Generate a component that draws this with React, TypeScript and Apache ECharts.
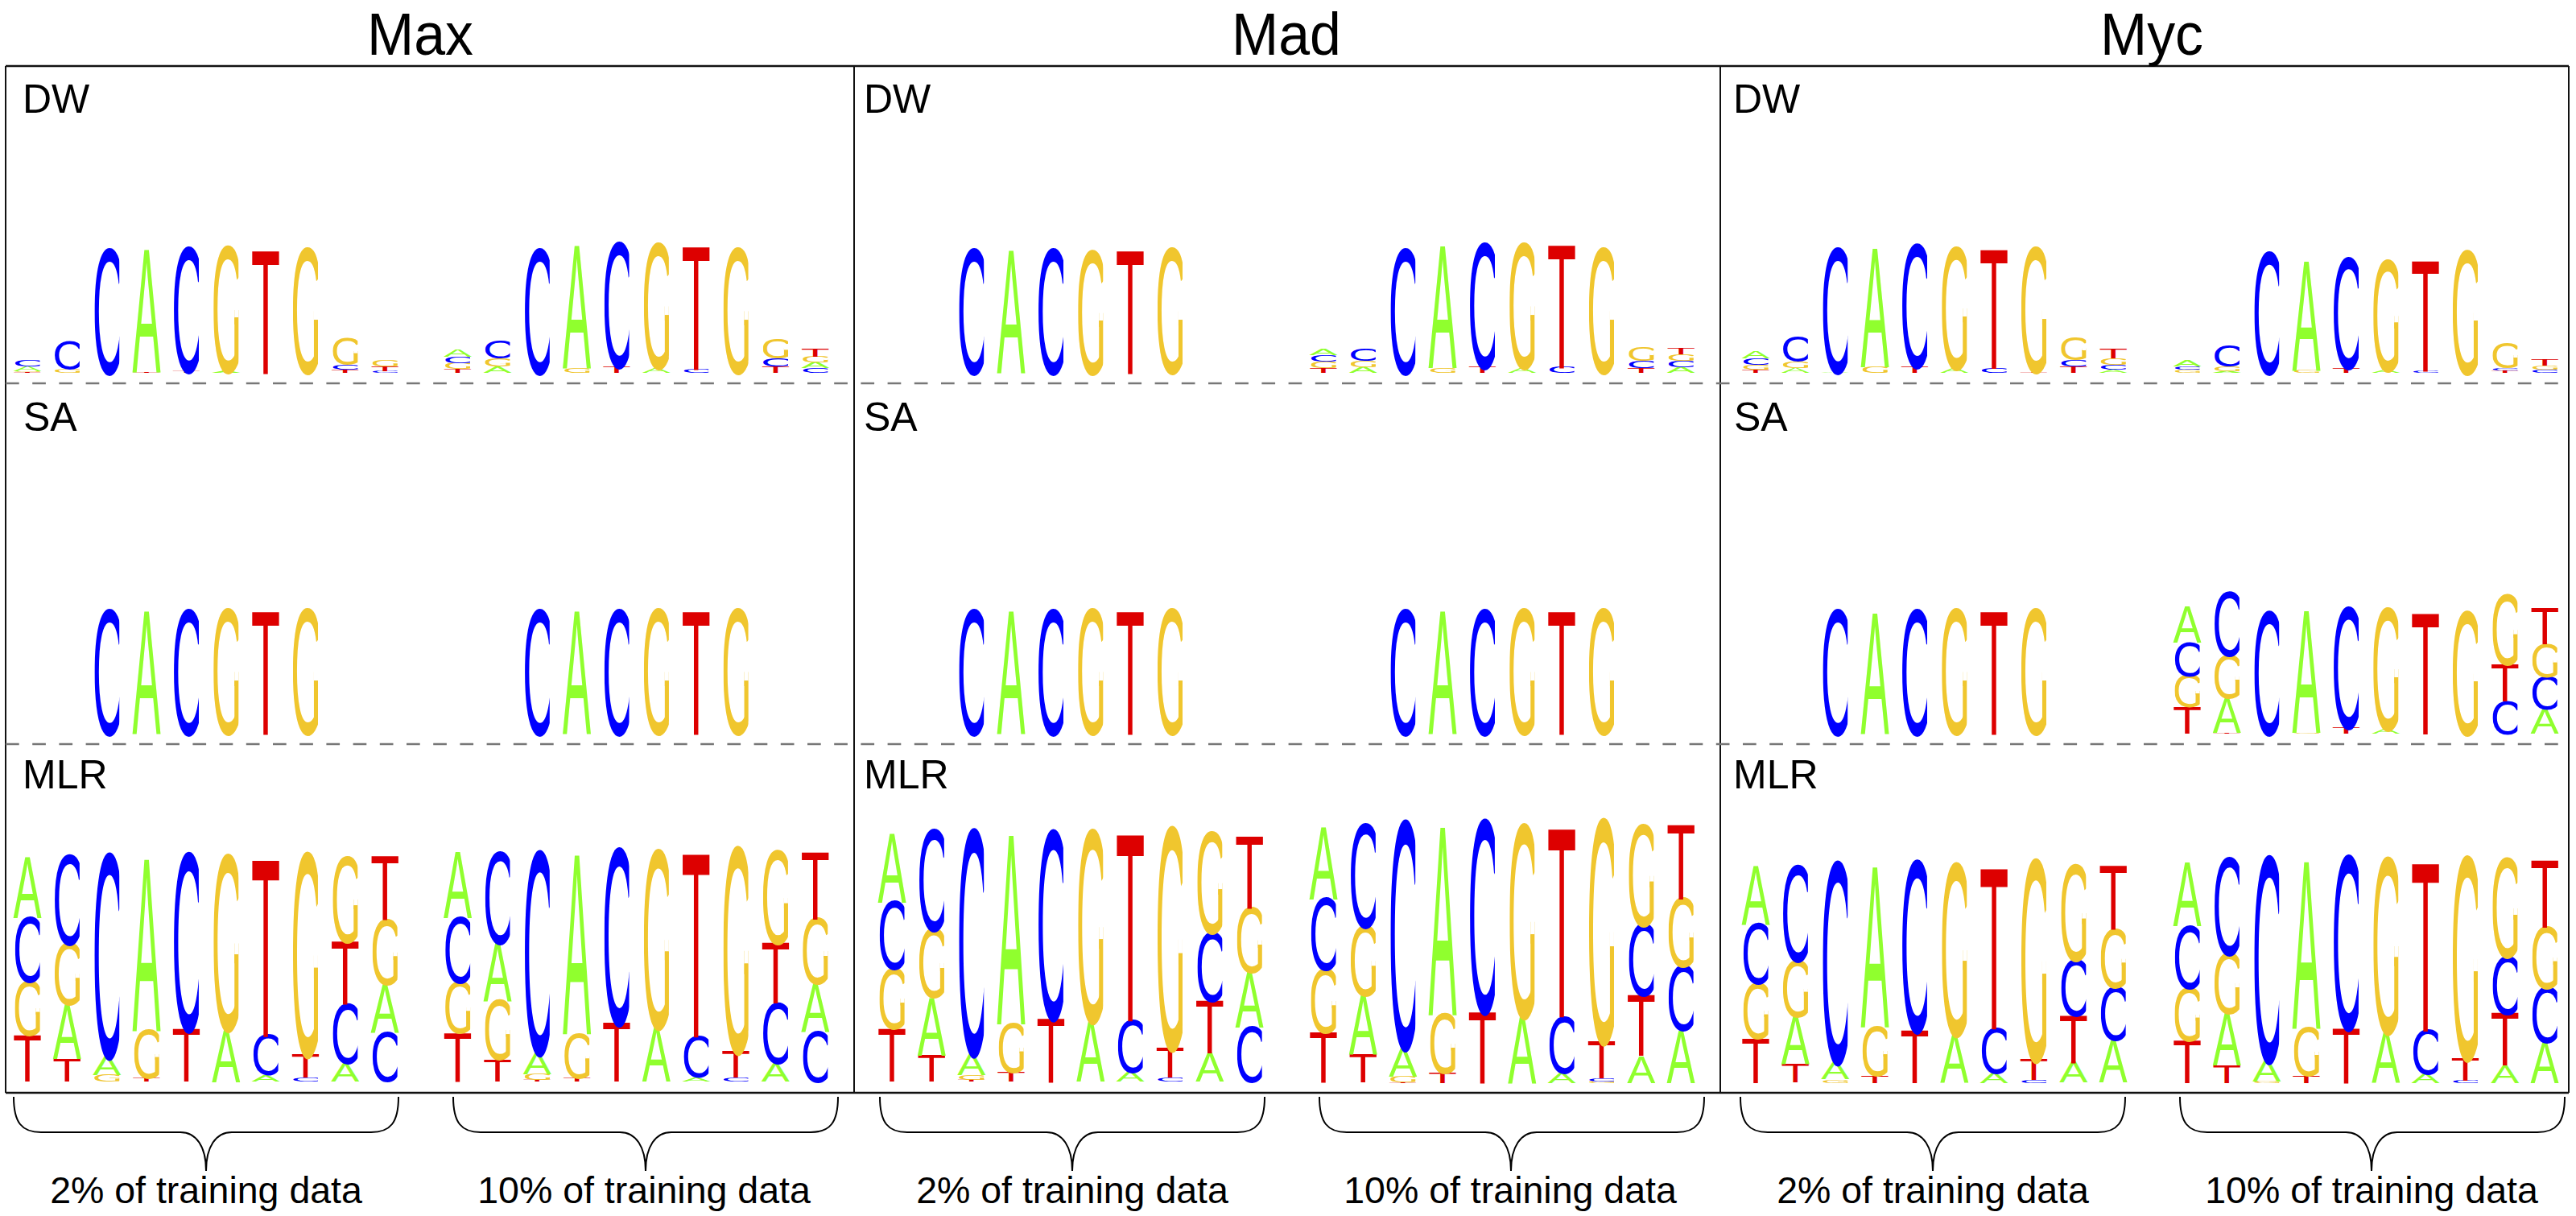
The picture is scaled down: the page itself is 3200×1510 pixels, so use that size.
import React, { useEffect, useRef } from "react";
import * as echarts from "echarts";

type Stack = [string, number][];

const factors = ["Max", "Mad", "Myc"];
const methods = ["DW", "SA", "MLR"];
const trainingLabels = ["2% of training data", "10% of training data"];
const positions = ["1", "2", "3", "4", "5", "6", "7", "8", "9", "10"];

const coreSA: Stack[] = [[], [], [["C", 152]], [["A", 152]], [["C", 152]], [["G", 152]], [["T", 152]], [["G", 152]], [], []];

const maxDW2: Stack[] = [
  [["T", 1], ["G", 1], ["A", 6], ["C", 7]],
  [["G", 5], ["C", 34]],
  [["C", 152]],
  [["T", 1], ["A", 152]],
  [["T", 2], ["C", 152]],
  [["A", 2], ["G", 154]],
  [["T", 152]],
  [["G", 152]],
  [["T", 4], ["C", 6], ["G", 33]],
  [["C", 2], ["T", 6], ["G", 8]],
];
const maxDW10: Stack[] = [
  [["T", 5], ["G", 7], ["C", 8], ["A", 9]],
  [["A", 8], ["G", 10], ["C", 21]],
  [["C", 152]],
  [["G", 6], ["A", 152]],
  [["T", 8], ["C", 152]],
  [["A", 6], ["G", 152]],
  [["C", 5], ["T", 152]],
  [["G", 152]],
  [["T", 8], ["C", 10], ["G", 24]],
  [["C", 6], ["A", 7], ["G", 7], ["T", 10]],
];
const madDW2: Stack[] = [[], [], [["C", 152]], [["A", 152]], [["C", 152]], [["G", 150]], [["T", 152]], [["G", 152]], [], []];
const madDW10: Stack[] = [
  [["T", 6], ["G", 8], ["C", 8], ["A", 8]],
  [["A", 7], ["G", 8], ["C", 15]],
  [["C", 152]],
  [["G", 6], ["A", 151]],
  [["T", 7], ["C", 152]],
  [["A", 6], ["G", 152]],
  [["C", 7], ["T", 152]],
  [["G", 152]],
  [["T", 6], ["C", 9], ["G", 16]],
  [["A", 7], ["C", 8], ["G", 8], ["T", 8]],
];
const mycDW2: Stack[] = [
  [["T", 4], ["G", 6], ["C", 8], ["A", 9]],
  [["A", 6], ["G", 8], ["C", 30]],
  [["A", 1], ["C", 152]],
  [["G", 8], ["A", 147]],
  [["T", 8], ["C", 150]],
  [["A", 6], ["G", 148]],
  [["C", 6], ["T", 147]],
  [["T", 1], ["G", 152]],
  [["T", 8], ["C", 8], ["G", 28]],
  [["A", 4], ["C", 6], ["G", 8], ["T", 11]],
];
const mycDW10: Stack[] = [
  [["G", 4], ["C", 4], ["A", 7]],
  [["A", 2], ["G", 6], ["C", 25]],
  [["C", 149]],
  [["G", 3], ["A", 135]],
  [["T", 6], ["C", 135]],
  [["A", 4], ["G", 135]],
  [["C", 2], ["T", 137]],
  [["G", 150]],
  [["T", 3], ["C", 3], ["G", 30]],
  [["C", 4], ["G", 5], ["T", 8]],
];

const mycSA2: Stack[] = [[], [], [["C", 152]], [["A", 150]], [["C", 152]], [["G", 152]], [["T", 152]], [["G", 152]], [], []];
const mycSA10: Stack[] = [
  [["T", 33], ["G", 39], ["C", 41], ["A", 44]],
  [["T", 1], ["A", 43], ["G", 53], ["C", 78]],
  [["C", 150]],
  [["G", 1], ["A", 151]],
  [["T", 7], ["C", 147]],
  [["A", 6], ["G", 148]],
  [["T", 150]],
  [["G", 150]],
  [["C", 40], ["T", 46], ["G", 86]],
  [["A", 31], ["C", 40], ["G", 40], ["T", 45]],
];

const maxMLR2: Stack[] = [
  [["T", 57], ["G", 66], ["C", 79], ["A", 75]],
  [["T", 28], ["A", 67], ["G", 75], ["C", 109]],
  [["G", 8], ["A", 24], ["C", 246]],
  [["T", 5], ["G", 58], ["A", 211]],
  [["T", 64], ["C", 215]],
  [["A", 65], ["G", 212]],
  [["A", 8], ["C", 48], ["T", 217]],
  [["C", 5], ["T", 29], ["G", 245]],
  [["A", 23], ["C", 72], ["T", 77], ["G", 104]],
  [["C", 60], ["A", 60], ["G", 79], ["T", 78]],
];
const maxMLR10: Stack[] = [
  [["T", 60], ["G", 62], ["C", 80], ["A", 81]],
  [["T", 27], ["G", 72], ["A", 72], ["C", 111]],
  [["T", 2], ["G", 7], ["A", 27], ["C", 245]],
  [["T", 5], ["G", 54], ["A", 220]],
  [["T", 72], ["C", 213]],
  [["A", 67], ["G", 215]],
  [["A", 5], ["C", 50], ["T", 225]],
  [["C", 5], ["T", 33], ["G", 248]],
  [["A", 23], ["C", 73], ["T", 75], ["G", 112]],
  [["C", 61], ["A", 59], ["G", 80], ["T", 82]],
];
const madMLR2: Stack[] = [
  [["T", 65], ["G", 74], ["C", 82], ["A", 85]],
  [["T", 33], ["A", 71], ["G", 83], ["C", 122]],
  [["T", 2], ["G", 6], ["A", 27], ["C", 272]],
  [["T", 11], ["G", 60], ["A", 232]],
  [["T", 79], ["C", 228]],
  [["A", 75], ["G", 232]],
  [["A", 12], ["C", 63], ["T", 229]],
  [["C", 5], ["T", 37], ["G", 268]],
  [["A", 35], ["T", 65], ["C", 84], ["G", 122]],
  [["C", 67], ["A", 68], ["G", 78], ["T", 89]],
];
const madMLR10: Stack[] = [
  [["T", 62], ["G", 77], ["C", 87], ["A", 89]],
  [["T", 34], ["A", 73], ["G", 85], ["C", 125]],
  [["T", 1], ["G", 7], ["A", 36], ["C", 275]],
  [["T", 12], ["G", 72], ["A", 231]],
  [["T", 88], ["C", 233]],
  [["A", 82], ["G", 233]],
  [["A", 13], ["C", 69], ["T", 231]],
  [["G", 2], ["C", 4], ["T", 45], ["G", 270]],
  [["A", 33], ["T", 75], ["C", 87], ["G", 122]],
  [["A", 65], ["C", 78], ["G", 83], ["T", 91]],
];
const mycMLR2: Stack[] = [
  [["T", 55], ["G", 67], ["C", 73], ["A", 72]],
  [["T", 23], ["A", 59], ["G", 69], ["C", 116]],
  [["G", 4], ["A", 22], ["C", 243]],
  [["T", 9], ["G", 60], ["A", 197]],
  [["T", 64], ["C", 207]],
  [["A", 60], ["G", 208]],
  [["A", 12], ["C", 55], ["T", 197]],
  [["C", 4], ["T", 25], ["G", 243]],
  [["A", 25], ["T", 58], ["C", 69], ["G", 116]],
  [["A", 52], ["C", 65], ["G", 71], ["T", 78]],
];
const mycMLR10: Stack[] = [
  [["T", 52], ["G", 65], ["C", 76], ["A", 79]],
  [["T", 22], ["A", 64], ["G", 73], ["C", 117]],
  [["G", 2], ["A", 26], ["C", 248]],
  [["T", 9], ["G", 58], ["A", 205]],
  [["T", 67], ["C", 210]],
  [["A", 63], ["G", 212]],
  [["A", 11], ["C", 53], ["T", 206]],
  [["C", 3], ["T", 28], ["G", 245]],
  [["A", 21], ["T", 64], ["C", 70], ["G", 120]],
  [["A", 50], ["C", 67], ["G", 75], ["T", 82]],
];

const logoTable: Stack[][][] = [
  [[maxDW2, maxDW10], [coreSA, coreSA], [maxMLR2, maxMLR10]],
  [[madDW2, madDW10], [coreSA, coreSA], [madMLR2, madMLR10]],
  [[mycDW2, mycDW10], [mycSA2, mycSA10], [mycMLR2, mycMLR10]],
];

// ---- layout and style ----
const W = 3200;
const H = 1510;
const PITCH = 49.35;
const FONT = '"Liberation Sans", Arial, sans-serif';
const FS = 100;
const CAP = 0.688; // cap height of the font, in em
const colors: Record<string, string> = { A: "#90FF2E", C: "#0000FF", G: "#F0C62E", T: "#DD0000" };
// glyph ink width at FS, drawn width in px, clip width in px, vertical overshoot factor, x shift
const glyphs: Record<string, { ink: number; drawn: number; clip: number; over: number; dx: number }> = {
  A: { ink: 66.5, drawn: 35, clip: 0, over: 1, dx: 0 },
  T: { ink: 56, drawn: 33, clip: 0, over: 1, dx: 0 },
  C: { ink: 63, drawn: 35, clip: 31, over: 1.015, dx: 2 },
  G: { ink: 66, drawn: 35, clip: 31, over: 1.015, dx: 2.48 },
};
const colStart = [[34, 568.6], [1108, 1644], [2181, 2717]];
// baseline by factor, method, training size
const baselines = [
  [[463, 463], [911, 911], [1343, 1343]],
  [[463, 463], [911, 911], [1343, 1344.5]],
  [[463, 463], [911, 911], [1344.5, 1344.5]],
];
const GRID_H = 320;
const methodYScale = [1, 1, 1.008];
const dividers = [7, 1061, 2137, 3191];
const FRAME_TOP = 82;
const FRAME_BOTTOM = 1357;
const dashY = [476, 924];
const titleX = [522, 1598, 2673];
const methodX = [[28, 29, 28], [1073, 1073, 1073], [2153, 2154, 2153]];
const methodY = [123, 518, 962];
const braces = [[17, 256, 495], [563, 802, 1041], [1093, 1332, 1571], [1639, 1877, 2117], [2162, 2401, 2640], [2708, 2946, 3186]];
const labelX = [256, 800, 1332, 1876, 2401, 2946];

function makeRenderItem(letters: string[]) {
  return (params: any, api: any) => {
    const letter = letters[params.dataIndex];
    const g = glyphs[letter];
    const bottom = api.coord([api.value(0), api.value(1)]);
    const top = api.coord([api.value(0), api.value(2)]);
    const h = bottom[1] - top[1];
    const cx = bottom[0];
    const cy = (bottom[1] + top[1]) / 2;
    const text = {
      type: "text",
      x: g.dx,
      y: cy,
      scaleX: g.drawn / g.ink,
      scaleY: (h * g.over) / (CAP * FS),
      silent: true,
      style: {
        text: letter,
        fontSize: FS,
        fontFamily: FONT,
        fill: colors[letter],
        align: "center",
        textAlign: "center",
        verticalAlign: "middle",
        textVerticalAlign: "middle",
      },
    };
    const children: any[] = [text];
    if (letter === "G") {
      // this typeface's G has an inward bar that the logo's G lacks: hide it and draw the logo's plain stem
      const white = { fill: "#fff", stroke: "none" };
      const frac = (f: number) => bottom[1] - f * h;
      children.push({
        type: "rect",
        silent: true,
        shape: { x: -8, y: frac(0.56), width: 18.5, height: frac(0.36) - frac(0.56) },
        style: white,
      });
      children.push({
        type: "rect",
        silent: true,
        shape: { x: 10.5, y: frac(0.56), width: 6, height: frac(0.433) - frac(0.56) },
        style: white,
      });
      children.push({
        type: "rect",
        silent: true,
        shape: { x: 10.5, y: frac(0.433), width: 5, height: frac(0.1) - frac(0.433) },
        style: { fill: colors.G, stroke: "none" },
      });
    }
    const group: any = { type: "group", x: cx, children };
    if (g.clip) {
      group.clipPath = { type: "rect", shape: { x: -g.clip / 2, y: top[1] - h, width: g.clip, height: h * 3 } };
    }
    return group;
  };
}

function labelText(text: string, x: number, y: number, fontSize: number, align = "center", scaleX = 1, scaleY = 1) {
  return {
    type: "text",
    x,
    y,
    scaleX,
    scaleY,
    silent: true,
    style: {
      text,
      fontSize,
      fontFamily: FONT,
      fill: "#000",
      align,
      textAlign: align,
      verticalAlign: "middle",
      textVerticalAlign: "middle",
    },
  };
}

function vline(x: number) {
  return {
    type: "line",
    silent: true,
    shape: { x1: x, y1: FRAME_TOP, x2: x, y2: FRAME_BOTTOM },
    style: { stroke: "#111", lineWidth: 2 },
  };
}

function hline(y: number, lw: number) {
  return {
    type: "line",
    silent: true,
    shape: { x1: dividers[0], y1: y, x2: dividers[3], y2: y },
    style: { stroke: "#111", lineWidth: lw },
  };
}

function braceParts(x0: number, mid: number, x1: number) {
  const y0 = 1362;
  const ym = 1406;
  const yt = 1454;
  const s = { stroke: "#000", lineWidth: 2, fill: "none" };
  const curve = (a: number[], c1: number[], c2: number[], b: number[]) => ({
    type: "bezierCurve",
    silent: true,
    shape: { x1: a[0], y1: a[1], cpx1: c1[0], cpy1: c1[1], cpx2: c2[0], cpy2: c2[1], x2: b[0], y2: b[1] },
    style: s,
  });
  const seg = (a: number, b: number) => ({
    type: "line",
    silent: true,
    shape: { x1: a, y1: ym, x2: b, y2: ym },
    style: s,
  });
  return [
    curve([x0, y0], [x0, y0 + 32], [x0 + 10, ym], [x0 + 34, ym]),
    seg(x0 + 34, mid - 32),
    curve([mid - 32, ym], [mid - 12, ym], [mid, ym + 18], [mid, yt]),
    curve([mid, yt], [mid, ym + 18], [mid + 12, ym], [mid + 32, ym]),
    seg(mid + 32, x1 - 34),
    curve([x1 - 34, ym], [x1 - 10, ym], [x1, y0 + 32], [x1, y0]),
  ];
}

function buildOption() {
  const grid: any[] = [];
  const xAxis: any[] = [];
  const yAxis: any[] = [];
  const series: any[] = [];
  logoTable.forEach((rows, f) => {
    rows.forEach((pair, m) => {
      pair.forEach((stacks, t) => {
        const idx = grid.length;
        grid.push({
          left: colStart[f][t] - PITCH / 2,
          width: PITCH * 10,
          top: baselines[f][m][t] - GRID_H,
          height: GRID_H,
        });
        xAxis.push({ type: "category", gridIndex: idx, data: positions, show: false });
        yAxis.push({ type: "value", gridIndex: idx, min: 0, max: GRID_H / methodYScale[m], show: false });
        const letters: string[] = [];
        const data: number[][] = [];
        stacks.forEach((stack, col) => {
          let sum = 0;
          stack.forEach(([letter, height]) => {
            letters.push(letter);
            data.push([col, sum, sum + height]);
            sum += height;
          });
        });
        series.push({
          type: "custom",
          xAxisIndex: idx,
          yAxisIndex: idx,
          clip: false,
          silent: true,
          coordinateSystem: "cartesian2d",
          encode: { x: 0, y: [1, 2] },
          data,
          renderItem: makeRenderItem(letters),
        });
      });
    });
  });

  const graphics: any[] = [];
  dividers.forEach((x) => graphics.push(vline(x)));
  graphics.push(hline(FRAME_TOP, 2.5), hline(FRAME_BOTTOM, 2.5));
  dashY.forEach((y) =>
    graphics.push({
      type: "line",
      silent: true,
      shape: { x1: dividers[0], y1: y, x2: dividers[3], y2: y },
      style: { stroke: "#777", lineWidth: 2.5, lineDash: [16.7, 16.5] },
    })
  );
  factors.forEach((name, f) => {
    graphics.push(labelText(name, titleX[f], 42, 72, "center", 0.97, 1.03));
    methods.forEach((mname, m) => {
      graphics.push(labelText(mname, methodX[f][m], methodY[m], 50, "left"));
    });
  });
  braces.forEach((b, i) => {
    graphics.push(...braceParts(b[0], b[1], b[2]));
    graphics.push(labelText(trainingLabels[i % 2], labelX[i], 1478, 46.5));
  });

  return {
    animation: false,
    backgroundColor: "#fff",
    grid,
    xAxis,
    yAxis,
    series,
    graphic: { elements: graphics },
  };
}

export default function App() {
  const ref = useRef<HTMLDivElement>(null);
  useEffect(() => {
    document.body.style.margin = "0";
    const chart = echarts.init(ref.current as HTMLDivElement, undefined, { renderer: "svg", width: W, height: H });
    chart.setOption(buildOption() as any);
    return () => chart.dispose();
  }, []);
  return <div ref={ref} style={{ width: W, height: H }} />;
}
